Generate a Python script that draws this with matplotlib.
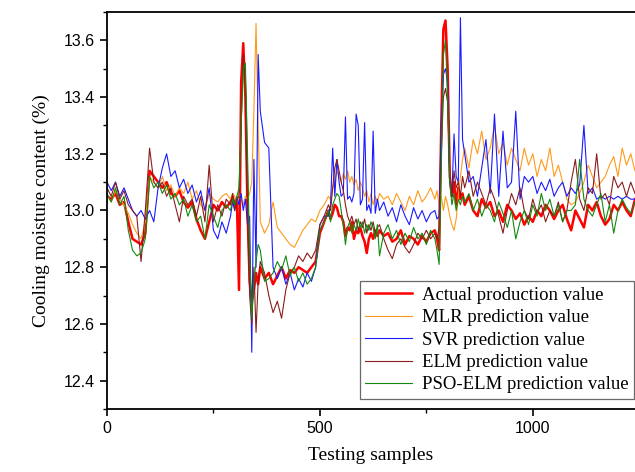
import numpy as np
import matplotlib
matplotlib.use("Agg")
import matplotlib.pyplot as plt
from matplotlib.ticker import MultipleLocator

# ------------------------------
# Data
# ------------------------------
# sample index: coarse steps, finer around the spikes
samples = (list(range(0, 290, 10)) + list(range(290, 360, 5)) + list(range(360, 520, 10))
           + list(range(520, 640, 5)) + list(range(640, 770, 10)) + list(range(770, 840, 5))
           + list(range(840, 1250, 10)))

actual = [
    13.05, 13.04, 13.06, 13.02, 13.03, 12.96, 12.90, 12.89, 12.88, 12.92, 13.14, 13.12, 13.10, 13.08, 13.10,
    13.06, 13.05, 13.07, 13.03, 13.01, 13.03, 12.97, 12.93, 12.90, 12.96, 13.02, 13.00, 13.03, 13.01,
    13.03, 13.05, 13.02, 13.04, 12.72, 13.45, 13.59, 13.40, 13.00, 12.75, 12.68, 12.72, 12.78, 12.74,
    12.80, 12.76, 12.78, 12.74, 12.77, 12.80, 12.76, 12.79, 12.78, 12.80, 12.79, 12.78, 12.80, 12.82, 12.92, 12.96,
    13.00, 12.97, 12.99, 13.02, 13.01, 12.98, 12.98, 12.96, 12.91, 12.94, 12.93, 12.96, 12.90, 12.93, 12.92, 12.94,
    12.91, 12.89, 12.85, 12.90, 12.92, 12.90, 12.93, 12.91,
    12.93, 12.91, 12.92, 12.89, 12.90, 12.93, 12.88, 12.91, 12.90, 12.88, 12.91, 12.89, 12.92,
    12.93, 12.90, 12.86, 13.30, 13.64, 13.67, 13.50, 13.12, 13.05, 13.10, 13.02, 13.08, 13.04, 13.06,
    13.02, 13.05, 13.00, 12.98, 13.04, 13.01, 13.03, 12.98, 13.00, 12.96, 13.02, 13.00, 12.97, 12.99, 12.95,
    12.98, 12.96, 13.00, 12.98, 13.02, 13.00, 12.97, 13.00, 13.02, 12.97, 12.93, 13.00, 12.97, 12.94, 13.02,
    13.00, 13.03, 12.98, 12.95, 12.97, 13.02, 13.00, 13.03, 13.00, 12.98, 13.04,
]

mlr = [
    13.05, 13.03, 13.07, 13.04, 13.02, 12.99, 12.95, 12.92, 12.90, 12.96, 13.12, 13.10, 13.08, 13.12, 13.07,
    13.09, 13.05, 13.08, 13.06, 13.10, 13.04, 13.07, 13.02, 13.00, 13.06, 13.04, 13.03, 13.05, 13.06,
    13.04, 13.06, 13.05, 13.03, 13.06, 13.04, 13.02, 13.05, 13.04, 13.06, 13.10, 13.35, 13.66, 13.30,
    12.96, 12.92, 12.95, 13.03, 12.94, 12.92, 12.90, 12.88, 12.87, 12.90, 12.93, 12.95, 12.97, 12.96, 13.00, 13.02,
    13.05, 13.04, 13.08, 13.10, 13.14, 13.12, 13.10, 13.13, 13.11, 13.14, 13.10, 13.12, 13.09, 13.11, 13.07, 13.10,
    13.08, 13.05, 13.07, 13.03, 13.06, 13.02, 13.05, 13.03,
    13.06, 13.04, 13.05, 13.02, 13.06, 13.03, 13.00, 13.05, 13.02, 13.07, 13.03, 13.05, 13.08,
    13.04, 13.07, 13.02, 13.05, 13.00, 13.05, 13.02, 12.98, 12.95, 12.93, 12.97, 13.05, 13.12, 13.18,
    13.22, 13.15, 13.25, 13.20, 13.28, 13.18, 13.22, 13.30, 13.20, 13.24, 13.16, 13.22, 13.18, 13.14, 13.22,
    13.16, 13.20, 13.12, 13.18, 13.14, 13.22, 13.12, 13.16, 13.10, 13.04, 13.02, 13.03, 13.06, 13.10, 13.16,
    13.12, 13.08, 13.10, 13.12, 13.16, 13.19, 13.12, 13.22, 13.16, 13.20, 13.14,
]

svr = [
    13.10, 13.07, 13.10, 13.05, 13.08, 13.04, 13.00, 12.98, 13.00, 12.97, 13.00, 12.96, 13.08, 13.15, 13.20,
    13.12, 13.14, 13.08, 13.11, 13.06, 13.09, 13.03, 13.07, 13.00, 13.08, 12.93, 12.90, 12.96, 12.92,
    12.98, 13.03, 13.00, 13.05, 13.02, 13.06, 13.00, 13.04, 12.95, 12.98, 12.50, 13.18, 12.80, 13.55,
    13.35, 13.24, 13.22, 12.80, 12.76, 12.80, 12.74, 12.78, 12.72, 12.76, 12.73, 12.78, 12.75, 12.80, 12.95, 12.98,
    12.98, 13.02, 13.22, 13.05, 13.18, 13.10, 13.05, 13.06, 13.33, 13.04, 13.05, 13.03, 13.06, 13.34, 13.30, 13.02,
    13.04, 13.31, 13.00, 13.02, 12.99, 13.28, 12.99, 13.04,
    13.00, 13.03, 12.98, 13.01, 12.96, 13.02, 12.98, 12.95, 13.01, 12.97, 13.00, 12.96, 12.99,
    13.00, 12.97, 12.98, 13.30, 13.48, 13.50, 13.45, 13.10, 13.05, 13.27, 13.12, 13.10, 13.68, 13.25,
    13.20, 13.10, 13.12, 13.05, 13.15, 13.25, 13.06, 13.34, 13.05, 13.28, 13.08, 13.10, 13.35, 13.04, 13.12,
    13.10, 13.12, 13.06, 13.10, 13.07, 13.11, 13.05, 13.08, 13.10, 13.05, 13.08, 13.06, 13.09, 13.30, 13.06,
    13.08, 13.04, 13.05, 13.04, 13.05, 13.04, 13.05, 13.04, 13.05, 13.04, 13.04,
]

elm = [
    13.08, 13.05, 13.10, 13.04, 13.07, 13.02, 13.00, 12.98, 12.82, 13.00, 13.22, 13.10, 13.08, 13.10, 13.05,
    13.08, 13.02, 12.96, 13.05, 13.02, 13.04, 12.98, 13.05, 12.96, 13.16, 12.96, 13.02, 12.98, 13.04,
    13.02, 13.06, 13.00, 13.04, 13.05, 13.30, 13.55, 13.45, 13.00, 12.70, 12.60, 12.80, 12.57, 12.75,
    12.82, 12.78, 12.70, 12.64, 12.68, 12.62, 12.72, 12.78, 12.80, 12.84, 12.82, 12.85, 12.83, 12.86, 12.95, 12.98,
    13.02, 13.00, 13.08, 13.15, 13.18, 13.14, 13.10, 13.07, 13.02, 12.98, 12.96, 12.98, 12.95, 12.97, 12.93, 12.96,
    12.94, 12.97, 12.92, 12.95, 12.93, 12.96, 12.92, 12.94,
    12.95, 12.90, 12.86, 12.83, 12.88, 12.90, 12.87, 12.85, 12.88, 12.92, 12.90, 12.93, 12.90,
    12.92, 12.90, 12.94, 13.20, 13.40, 13.43, 13.38, 13.12, 13.05, 13.14, 13.08, 13.10, 13.05, 13.12,
    13.08, 13.14, 13.05, 13.10, 13.06, 13.02, 13.08, 13.04, 12.98, 12.92, 13.00, 13.06, 13.02, 13.08, 13.00,
    12.97, 13.04, 12.99, 13.02, 12.96, 13.00, 12.98, 13.03, 12.96, 13.00, 13.10, 13.18, 13.04, 13.00, 13.08,
    13.06, 13.20, 13.04, 13.06, 13.02, 13.12, 13.08, 13.10, 13.05, 13.10, 13.06,
]

pso_elm = [
    13.06, 13.03, 13.08, 13.02, 13.05, 12.93, 12.86, 12.84, 12.85, 12.90, 13.12, 13.08, 13.10, 13.06, 13.09,
    13.04, 13.06, 13.02, 13.04, 12.98, 13.02, 12.96, 12.98, 12.90, 13.02, 12.98, 12.94, 13.00, 13.02,
    13.00, 13.04, 13.02, 13.05, 13.08, 13.30, 13.50, 13.52, 13.20, 12.85, 12.62, 12.75, 12.82, 12.88,
    12.86, 12.75, 12.76, 12.78, 12.82, 12.79, 12.84, 12.77, 12.80, 12.75, 12.78, 12.74, 12.76, 12.80, 12.93, 12.96,
    13.00, 12.96, 13.02, 13.04, 13.06, 13.05, 13.00, 12.95, 12.88, 12.94, 12.96, 12.92, 12.95, 12.93, 12.97, 12.94,
    12.96, 12.92, 12.95, 12.93, 12.96, 12.94, 12.90, 12.95,
    12.84, 12.92, 12.95, 12.90, 12.93, 12.88, 12.92, 12.89, 12.94, 12.90, 12.92, 12.88, 12.93,
    12.90, 12.86, 12.81, 13.15, 13.55, 13.60, 13.40, 13.10, 13.02, 13.06, 13.00, 13.04, 13.02, 13.05,
    13.03, 13.06, 13.00, 13.04, 12.98, 13.02, 13.00, 12.96, 13.03, 12.99, 12.94, 13.00, 12.90, 12.96, 13.00,
    12.95, 13.02, 12.98, 13.06, 13.00, 13.04, 12.98, 13.02, 12.96, 13.00, 13.00, 13.02, 13.18, 13.04, 13.00,
    12.98, 13.02, 13.06, 12.96, 13.02, 12.92, 13.00, 13.04, 13.01, 12.99, 13.03,
]

labels = ["Actual production value", "MLR prediction value", "SVR prediction value",
          "ELM prediction value", "PSO-ELM prediction value"]

# ------------------------------
# Plot
# ------------------------------
fig = plt.figure(figsize=(6.35, 4.72), dpi=100)
ax = fig.add_axes([0.1685, 0.1335, 0.8315, 0.8411])

ax.plot(samples, actual, color="#ff0000", linewidth=1.8, label=labels[0])
ax.plot(samples, mlr, color="#ff9a1a", linewidth=0.8, label=labels[1])
ax.plot(samples, svr, color="#1a1aff", linewidth=0.8, label=labels[2])
ax.plot(samples, elm, color="#8b1c1c", linewidth=0.8, label=labels[3])
ax.plot(samples, pso_elm, color="#108a10", linewidth=0.8, label=labels[4])

ax.set_xlim(0, 1240)
ax.set_ylim(12.3, 13.7)
ax.xaxis.set_major_locator(MultipleLocator(500))
ax.xaxis.set_minor_locator(MultipleLocator(250))
ax.yaxis.set_major_locator(MultipleLocator(0.2))
ax.yaxis.set_minor_locator(MultipleLocator(0.1))
ax.yaxis.set_major_formatter(matplotlib.ticker.FormatStrFormatter("%.1f"))

ax.tick_params(which="major", length=5, width=1.2, labelsize=11.5)
ax.tick_params(which="minor", length=3, width=1.0)
for lab in ax.get_xticklabels() + ax.get_yticklabels():
    lab.set_family("Liberation Sans")
for side in ["left", "bottom", "top"]:
    ax.spines[side].set_linewidth(1.3)
ax.spines["right"].set_visible(False)

ax.set_xlabel("Testing samples", family="Liberation Serif", fontsize=14, labelpad=8)
ax.set_ylabel("Cooling moisture content (%)", family="Liberation Serif", fontsize=14, labelpad=10)

leg = ax.legend(loc="lower right", bbox_to_anchor=(0.998, 0.025), borderaxespad=0,
                prop={"family": "Liberation Serif", "size": 13.5}, fancybox=False,
                handlelength=2.5, labelspacing=0.28, borderpad=0.3, handletextpad=0.5)
leg.get_frame().set_edgecolor("#444444")
leg.get_frame().set_linewidth(0.9)

plt.savefig("out.png", dpi=100)
